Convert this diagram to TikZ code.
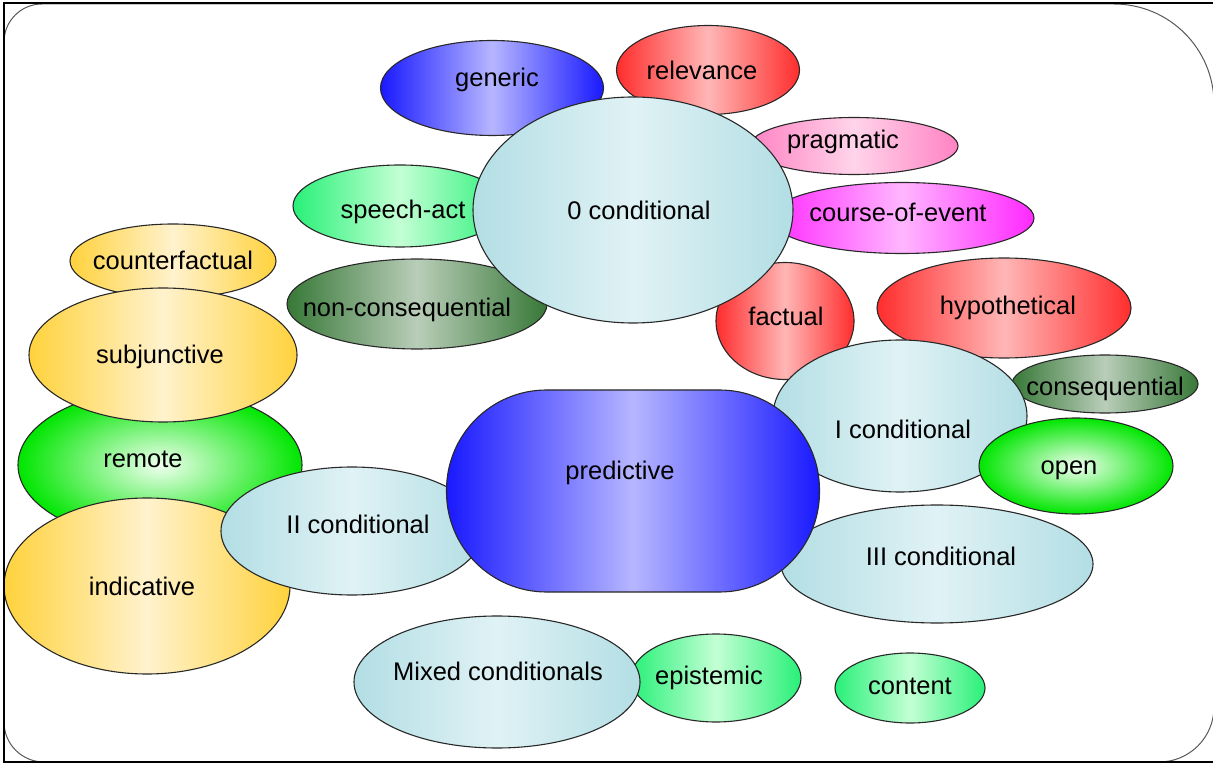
\documentclass[tikz,border=0pt]{standalone}
\usepackage{fontspec}
\setmainfont{Liberation Sans}
\usetikzlibrary{shapes.geometric}
\newcommand\mylbl[3]{\makebox[0pt]{\raisebox{\dimexpr#2-8.5pt\relax}[0pt][0pt]{\hspace*{#1}#3\hspace*{-#1}}}}
\definecolor{cyE}{RGB}{178,222,228}\definecolor{cyM}{RGB}{224,242,245}
\definecolor{blE}{RGB}{25,25,255}\definecolor{blM}{RGB}{182,182,255}
\definecolor{rdE}{RGB}{255,45,45}\definecolor{rdM}{RGB}{255,182,182}
\definecolor{pkE}{RGB}{255,130,195}\definecolor{pkM}{RGB}{255,212,234}
\definecolor{mgE}{RGB}{255,40,255}\definecolor{mgM}{RGB}{255,182,255}
\definecolor{lgE}{RGB}{40,240,120}\definecolor{lgM}{RGB}{195,255,212}
\definecolor{dgE}{RGB}{55,120,55}\definecolor{dgM}{RGB}{185,205,185}
\definecolor{yeE}{RGB}{255,210,60}\definecolor{yeM}{RGB}{255,242,205}
\definecolor{grO}{RGB}{0,230,0}\definecolor{grI}{RGB}{240,255,240}
\definecolor{lineC}{RGB}{40,40,40}
\tikzset{
  bub/.style={ellipse, draw=lineC, line width=1.1pt, inner sep=0pt, text=black,
    font=\fontsize{25.5}{30}\selectfont},
  cyanb/.style={bub, left color=cyE, right color=cyE, middle color=cyM},
  blueb/.style={bub, left color=blE, right color=blE, middle color=blM},
  redb/.style={bub, left color=rdE, right color=rdE, middle color=rdM},
  pinkb/.style={bub, left color=pkE, right color=pkE, middle color=pkM},
  magb/.style={bub, left color=mgE, right color=mgE, middle color=mgM},
  lgreenb/.style={bub, left color=lgE, right color=lgE, middle color=lgM},
  dgreenb/.style={bub, left color=dgE, right color=dgE, middle color=dgM},
  yellowb/.style={bub, left color=yeE, right color=yeE, middle color=yeM},
  radgreenb/.style={bub, inner color=grI, outer color=grO},
  pill/.style={rectangle, rounded corners=100pt, draw=lineC, line width=1.1pt, inner sep=0pt,
    text=black, font=\fontsize{25.5}{30}\selectfont,
    left color=blE, right color=blE, middle color=blM},
  framec/.style={draw=black!65, line width=1pt},
  borderc/.style={draw=black, line width=2.5pt}
}
\begin{document}
\begin{tikzpicture}[x=1pt,y=1pt]
\useasboundingbox (0,0) rectangle (1213,764);
\fill[white] (0,0) rectangle (1213,764);
\draw[framec] (4,722) arc[start angle=180,end angle=90,radius=38] -- (1114,760)
  arc[start angle=90,end angle=0,radius=100] -- (1214,57)
  arc[start angle=0,end angle=-90,radius=55] -- (44,2)
  arc[start angle=270,end angle=180,radius=40] -- cycle;
% upper cluster
\node[blueb, minimum width=223, minimum height=95] (generic) at (492,676) {\mylbl{5pt}{10pt}{generic}};
\node[redb, minimum width=183, minimum height=89] (relevance) at (708,694) {\mylbl{-6pt}{-1pt}{relevance}};
\node[pinkb, minimum width=208, minimum height=57] (pragmatic) at (854,618) {\mylbl{-11pt}{6pt}{pragmatic}};
\node[magb, minimum width=264, minimum height=71] (course) at (902,546) {\mylbl{-4pt}{5pt}{course-of-event}};
\node[lgreenb, minimum width=214, minimum height=82] (speech) at (400,558) {\mylbl{3pt}{-4pt}{speech-act}};
\node[dgreenb, minimum width=260, minimum height=90] (noncons) at (417,460) {\mylbl{-10pt}{-4pt}{non-consequential}};
\node[redb, minimum width=138, minimum height=117] (factual) at (785,443) {\mylbl{1pt}{4pt}{factual}};
\node[cyanb, minimum width=320, minimum height=226] (zero) at (633,554) {\mylbl{6pt}{-1pt}{0 conditional}};
% right cluster
\node[redb, minimum width=254, minimum height=100] (hypo) at (1004,456) {\mylbl{4pt}{2pt}{hypothetical}};
\node[dgreenb, minimum width=186, minimum height=58] (conseq) at (1105,380) {\mylbl{0pt}{-3pt}{consequential}};
\node[cyanb, minimum width=254, minimum height=152] (first) at (900,348) {\mylbl{3pt}{-14pt}{I conditional}};
\node[radgreenb, minimum width=194, minimum height=96] (open) at (1076,298) {\mylbl{-7pt}{0pt}{open}};
% left cluster
\node[yellowb, minimum width=206, minimum height=74] (counter) at (173,503) {\mylbl{0pt}{0pt}{counterfactual}};
\node[radgreenb, minimum width=284, minimum height=152] (remote) at (160,299) {\mylbl{-17pt}{6pt}{remote}};
\node[yellowb, minimum width=268, minimum height=134] (subj) at (163,409) {\mylbl{-3pt}{0pt}{subjunctive}};
\node[yellowb, minimum width=286, minimum height=176] (indic) at (147,178) {\mylbl{-5pt}{-1pt}{indicative}};
\node[cyanb, minimum width=262, minimum height=128] (second) at (352,233) {\mylbl{6pt}{6pt}{II conditional}};
\node[cyanb, minimum width=312, minimum height=118] (third) at (937,200) {\mylbl{4pt}{7pt}{III conditional}};
\node[pill, minimum width=373, minimum height=202] (predictive) at (633,273) {\mylbl{-13pt}{20pt}{predictive}};
% bottom row
\node[lgreenb, minimum width=170, minimum height=88] (epist) at (716,86) {\mylbl{-7pt}{2pt}{epistemic}};
\node[cyanb, minimum width=286, minimum height=132] (mixed) at (497,82) {\mylbl{1pt}{10pt}{Mixed conditionals}};
\node[lgreenb, minimum width=150, minimum height=70] (content) at (910,76) {\mylbl{0pt}{2pt}{content}};
\draw[borderc] (1213,761) -- (4,761) -- (4,2) -- (1213,2);
\end{tikzpicture}
\end{document}
